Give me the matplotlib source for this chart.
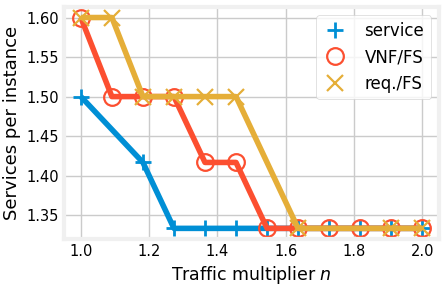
import matplotlib
matplotlib.use("Agg")
import matplotlib.pyplot as plt
import numpy as np

plt.style.use("fivethirtyeight")

n_all = np.linspace(1.0, 2.0, 12)
service_x = np.delete(n_all, [1])
service_y = [1.5, 1.4167, 1.3333, 1.3333, 1.3333, 1.3333, 1.3333, 1.3333, 1.3333, 1.3333, 1.3333]
vnf_x = n_all
vnf_y = [1.6, 1.5, 1.5, 1.5, 1.4167, 1.4167, 1.3333, 1.3333, 1.3333, 1.3333, 1.3333, 1.3333]
req_x = np.delete(n_all, [6, 8, 9])
req_y = [1.6, 1.6, 1.5, 1.5, 1.5, 1.5, 1.3333, 1.3333, 1.3333]

fig, ax = plt.subplots(figsize=(4.46, 2.91), dpi=100)
fig.patch.set_facecolor("white")
ax.set_facecolor("white")

ax.plot(service_x, service_y, marker="+", markersize=12, markeredgewidth=2, label="service")
ax.plot(vnf_x, vnf_y, marker="o", markersize=12, markeredgewidth=1.6, fillstyle="none", label="VNF/FS")
ax.plot(req_x, req_y, marker="x", markersize=12, markeredgewidth=1.6, label="req./FS")

ax.set_xlabel("Traffic multiplier $n$", fontsize=12.5)
ax.set_ylabel("Services per instance", fontsize=13)
ax.tick_params(labelsize=10.5)
ax.set_yticks([1.35, 1.40, 1.45, 1.50, 1.55, 1.60])
ax.set_yticklabels(["1.35", "1.40", "1.45", "1.50", "1.55", "1.60"])
leg = ax.legend(loc="upper right", fontsize=12, handlelength=1.5, handletextpad=1.0)
leg.get_frame().set_facecolor("white")
for h in leg.legend_handles:
    h.set_linestyle("None")

fig.subplots_adjust(left=0.143, right=0.985, top=0.976, bottom=0.179)
fig.savefig("out.png", facecolor="white")
